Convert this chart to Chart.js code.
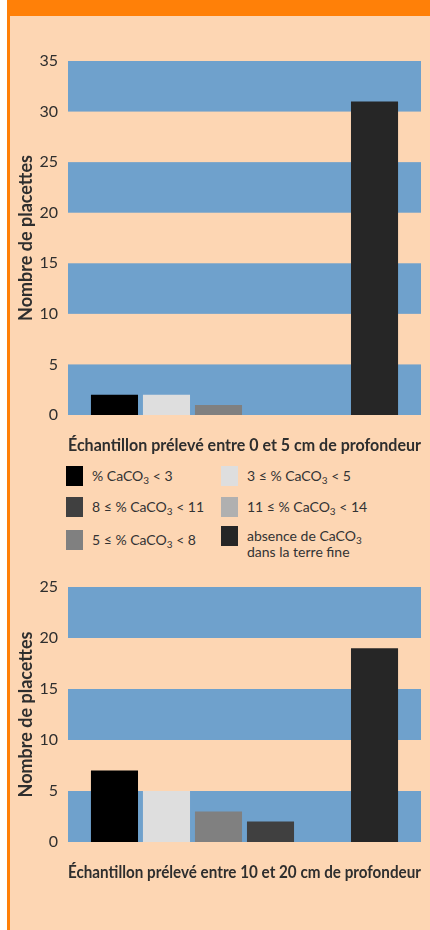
<!DOCTYPE html>
<html lang="fr">
<head>
<meta charset="utf-8">
<script src="https://cdn.jsdelivr.net/npm/chart.js@4.4.1/dist/chart.umd.min.js"></script>
<style>
  html, body { margin: 0; padding: 0; background: #fff; }
  body { width: 430px; height: 930px; position: relative; overflow: hidden; font-family: Lato, sans-serif; }
  .frame { position: absolute; left: 7px; top: 0; width: 423px; height: 930px; background: #fdd6b3; }
  .frame .band { position: absolute; left: 0; top: 0; width: 100%; height: 16px; background: #ff8008; }
  .frame .edge { position: absolute; left: 0; top: 0; width: 3px; height: 100%; background: #ff8008; }
  .chart-box { position: absolute; left: 10px; width: 420px; }
  #box1 { top: 40px; height: 425px; }
  #box2 { top: 560px; height: 332px; }
  .legend { position: absolute; left: 0; top: 0; width: 430px; color: #333; font-size: 14px; }
  .legend .item { position: absolute; display: flex; align-items: flex-start; white-space: nowrap; }
  .legend .sw { width: 17px; height: 20px; flex: none; }
  .legend .txt { margin-left: 9px; line-height: 16px; padding-top: 2px; }
  .legend sub { font-size: 10px; vertical-align: -3px; line-height: 0; }
</style>
</head>
<body>
<div class="frame"><div class="band"></div><div class="edge"></div></div>
<div class="chart-box" id="box1"><canvas id="chart1"></canvas></div>
<div class="legend" id="legend"></div>
<div class="chart-box" id="box2"><canvas id="chart2"></canvas></div>

<script>
// Classes de teneur en calcaire (ordre des barres)
const classes = [
  '% CaCO<sub>3</sub> &lt; 3',
  '3 ≤ % CaCO<sub>3</sub> &lt; 5',
  '5 ≤ % CaCO<sub>3</sub> &lt; 8',
  '8 ≤ % CaCO<sub>3</sub> &lt; 11',
  '11 ≤ % CaCO<sub>3</sub> &lt; 14',
  'absence de CaCO<sub>3</sub><br>dans la terre fine'
];
const classColors = ['#000000', '#dedede', '#808080', '#404040', '#b0b0b0', '#262626'];

// Nombre de placettes par classe
const counts0to5 = [2, 2, 1, 0, 0, 31];
const counts10to20 = [7, 5, 3, 2, 0, 19];

const yTitle = 'Nombre de placettes';
const caption1 = 'Échantillon prélevé entre 0 et 5 cm de profondeur';
const caption2 = 'Échantillon prélevé entre 10 et 20 cm de profondeur';
const yMax1 = 35;
const yMax2 = 25;

// légende : ordre d'affichage (colonne gauche / droite)
const legendOrder = [0, 1, 3, 4, 2, 5];

const fontFamily = 'Lato, sans-serif';
const textColor = '#2e2e2e';

// bandes bleues une graduation sur deux
const bandsPlugin = {
  id: 'bands',
  beforeDatasetsDraw(chart) {
    const { ctx, chartArea, scales } = chart;
    const ticks = scales.y.ticks;
    ctx.save();
    ctx.fillStyle = '#6fa1cc';
    for (let i = 0; i + 1 < ticks.length; i += 2) {
      const yTop = scales.y.getPixelForValue(ticks[i + 1].value);
      const yBot = scales.y.getPixelForValue(ticks[i].value);
      ctx.fillRect(chartArea.left, yTop, chartArea.right - chartArea.left, yBot - yTop);
    }
    ctx.restore();
  }
};

function makeChart(canvasId, values, yMax, caption, topPad) {
  const datasets = values.map((v, i) => ({
    label: classes[i],
    data: [v],
    backgroundColor: classColors[i],
    borderWidth: 0,
    categoryPercentage: 0.884,
    barPercentage: 0.905
  }));
  return new Chart(document.getElementById(canvasId), {
    type: 'bar',
    data: { labels: [''], datasets: datasets },
    options: {
      responsive: true,
      maintainAspectRatio: false,
      animation: false,
      layout: { padding: { top: topPad, right: 9, left: 0, bottom: 0 } },
      plugins: { legend: { display: false }, tooltip: { enabled: false } },
      scales: {
        x: {
          grid: { display: false, drawTicks: false },
          border: { display: false },
          ticks: { display: false },
          title: {
            display: true,
            text: caption,
            color: textColor,
            font: { family: fontFamily, size: 16.5, weight: 'bold' },
            padding: { top: 0, bottom: 9 }
          },
          afterFit(scale) { scale.height = 50; }
        },
        y: {
          min: 0,
          max: yMax,
          grid: { display: false, drawTicks: false },
          border: { display: false },
          ticks: {
            stepSize: 5,
            padding: 10,
            color: textColor,
            font: { family: fontFamily, size: 16 }
          },
          title: {
            display: true,
            text: yTitle,
            color: textColor,
            font: { family: fontFamily, size: 18, weight: 'bold' },
            padding: { top: 5, bottom: 0 }
          },
          afterFit(scale) { scale.width = 58; }
        }
      }
    },
    plugins: [bandsPlugin]
  });
}

makeChart('chart1', counts0to5, yMax1, caption1, 21);
makeChart('chart2', counts10to20, yMax2, caption2, 27);

// légende HTML
const legendEl = document.getElementById('legend');
const legendPos = [
  [66, 466], [221, 466],
  [66, 497], [221, 497],
  [66, 530], [221, 526]
];
legendOrder.forEach((ci, k) => {
  const item = document.createElement('div');
  item.className = 'item';
  item.style.left = legendPos[k][0] + 'px';
  item.style.top = legendPos[k][1] + 'px';
  item.innerHTML = '<span class="sw" style="background:' + classColors[ci] + '"></span>' +
    '<span class="txt">' + classes[ci] + '</span>';
  legendEl.appendChild(item);
});
</script>
</body>
</html>
